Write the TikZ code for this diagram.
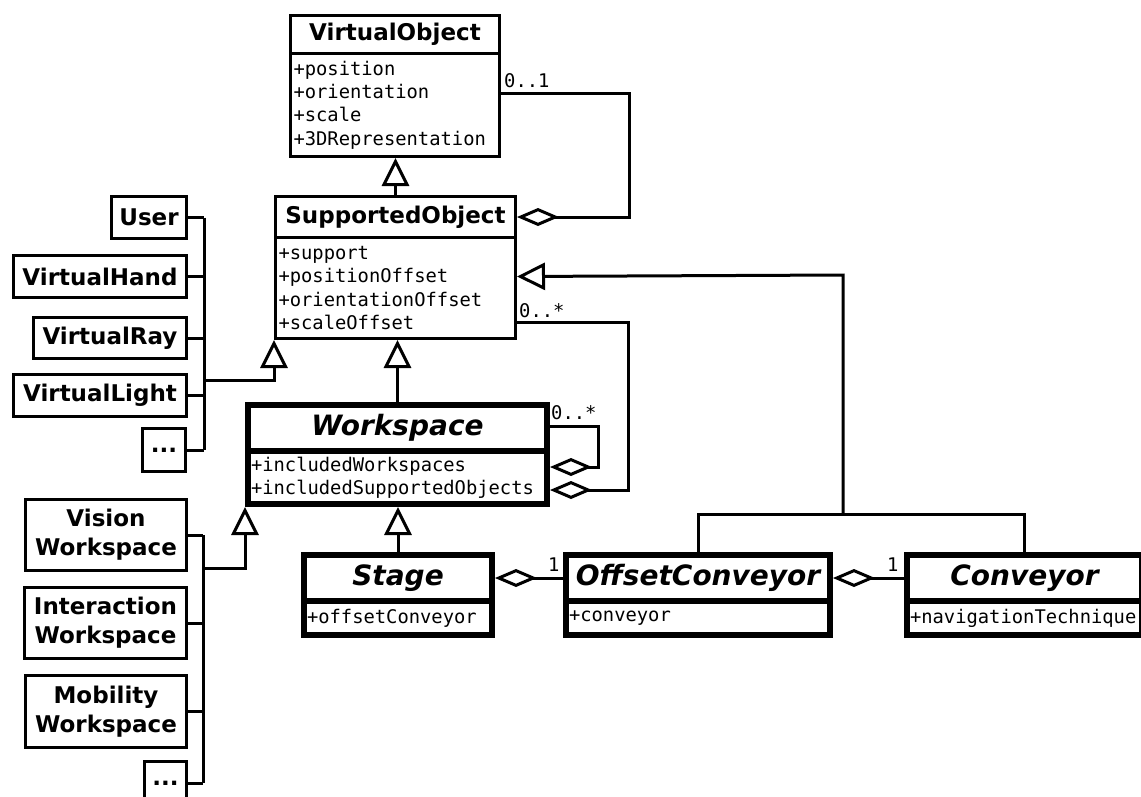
\documentclass[tikz,border=0pt]{standalone}
\usepackage{fontspec}
\setmainfont{DejaVu Sans}
\newfontfamily\monofont{DejaVu Sans Mono}
\usetikzlibrary{arrows.meta}
\begin{document}
\begin{tikzpicture}[x=1pt,y=-1pt,
  cls/.style={draw, line width=3pt, anchor=north west, inner sep=0pt, font=\bfseries\fontsize{23}{29}\selectfont, align=center},
  clsab/.style={draw, line width=6pt, anchor=north west, inner sep=0pt, font=\bfseries\itshape\fontsize{28}{32}\selectfont},
  attr/.style={draw, line width=3pt, anchor=north west, inner xsep=3pt, inner ysep=0pt, align=left, font=\monofont\fontsize{18.8}{23.3}\selectfont},
  attrab/.style={attr, line width=6pt},
  lbl/.style={inner sep=0pt, anchor=west, font=\monofont\fontsize{18.8}{22}\selectfont},
  conn/.style={line width=3pt},
  gen/.style={conn, -{Triangle[open, length=28pt, width=27pt, fill=white]}},
  agg/.style={conn, {Diamond[open, length=42pt, width=18pt, fill=white]}-}
]
\useasboundingbox (0,0) rectangle (1141,796);
\clip (0,0) rectangle (1141,796);

% VirtualObject
\node[cls, minimum width=209pt, minimum height=38pt] (VO-title) at (289,14) {VirtualObject};
\node[attr, minimum height=103pt, text width=203pt] (VO-attr) at (289,52) {+position\\+orientation\\+scale\\+3DRepresentation};

% SupportedObject
\node[cls, minimum width=240pt, minimum height=41pt] (SO-title) at (274,195) {SupportedObject};
\node[attr, minimum height=101pt, text width=234pt] (SO-attr) at (274,236) {+support\\+positionOffset\\+orientationOffset\\+scaleOffset};

% Workspace
\node[clsab, minimum width=299pt, minimum height=46pt] (WS-title) at (245,402) {Workspace};
\node[attrab, minimum height=53pt, text width=293pt] (WS-attr) at (245,448) {+includedWorkspaces\\+includedSupportedObjects};

% Stage
\node[clsab, minimum width=188pt, minimum height=46pt] (ST-title) at (301,552) {Stage};
\node[attrab, minimum height=34pt, text width=182pt] (ST-attr) at (301,598) {+offsetConveyor};

% OffsetConveyor
\node[clsab, minimum width=264pt, minimum height=46pt] (OC-title) at (563,552) {OffsetConveyor};
\node[attrab, minimum height=34pt, text width=258pt] (OC-attr) at (563,598) {+conveyor};

% Conveyor
\node[clsab, minimum width=235pt, minimum height=46pt] (CV-title) at (904,552) {Conveyor};
\node[attrab, minimum height=34pt, text width=229pt] (CV-attr) at (904,598) {+navigationTechnique};

% left group 1
\node[cls, minimum width=75pt, minimum height=42pt] (User) at (110,195) {User};
\node[cls, minimum width=173pt, minimum height=42pt] (VHand) at (12,254) {VirtualHand};
\node[cls, minimum width=153pt, minimum height=41pt] (VRay) at (32,316) {VirtualRay};
\node[cls, minimum width=173pt, minimum height=42pt] (VLight) at (12,373) {VirtualLight};
\node[cls, minimum width=43pt, minimum height=43pt] (Dots1) at (141,427) {\raisebox{-4pt}{...}};

% left group 2
\node[cls, minimum width=161pt, minimum height=71pt] (Vision) at (24,498) {Vision\\Workspace};
\node[cls, minimum width=162pt, minimum height=71pt] (Inter) at (23,586) {Interaction\\Workspace};
\node[cls, minimum width=161pt, minimum height=72pt] (Mobil) at (24,674) {Mobility\\Workspace};
\node[cls, minimum width=42pt, minimum height=43pt] (Dots2) at (143,760) {\raisebox{-4pt}{...}};

% bus coordinates
\coordinate (b1) at (204,380);
\coordinate (b2) at (203,568);
\coordinate (c1) at (629,93);
\coordinate (s1) at (598,426);
\coordinate (s2) at (628,322);
\coordinate (g1) at (843,275);
\coordinate (g2) at (843,514);

% group 1 connectors
\foreach \n in {User,VHand,VRay,VLight,Dots1} \draw[conn] (\n.east) -- (\n.east -| b1);
\draw[conn] (User.east -| b1) -- (Dots1.east -| b1);
\draw[gen] (b1) -| (SO-attr.south west);

% group 2 connectors
\foreach \n in {Vision,Inter,Mobil,Dots2} \draw[conn] (\n.east) -- (\n.east -| b2);
\draw[conn] (Vision.east -| b2) -- (Dots2.east -| b2);
\draw[gen] (b2) -| (WS-attr.south west);

% generalizations
\draw[gen] (SO-title.north) -- (SO-title.north |- VO-attr.south);
\draw[gen] (WS-title.north) -- (WS-title.north |- SO-attr.south);
\draw[gen] (ST-title.north) -- (ST-title.north |- WS-attr.south);
\draw[conn] (OC-title.north) |- (g2) -| (CV-title.north);
\draw[gen] (g2) -- (g1) -- ([yshift=11.5pt]SO-attr.east);

% aggregations
\draw[agg] (SO-title.east) -| (c1) -- (c1 -| VO-attr.east);
\draw[agg] ([yshift=10.5pt]WS-attr.east) -| (s1) -- (s1 -| WS-title.east);
\draw[agg] ([yshift=-12.5pt]WS-attr.east) -| (s2) -- (s2 -| SO-attr.east);
\draw[agg] (ST-title.east) -- (OC-title.west);
\draw[agg] (OC-title.east) -- (CV-title.west);

% multiplicities
\node[lbl] (m1) at (504,81) {0..1};
\node[lbl] (m2) at (519,311) {0..*};
\node[lbl] (m3) at (551,413) {0..*};
\node[lbl] (m4) at (548,565) {1};
\node[lbl] (m5) at (887,565) {1};
\end{tikzpicture}
\end{document}
